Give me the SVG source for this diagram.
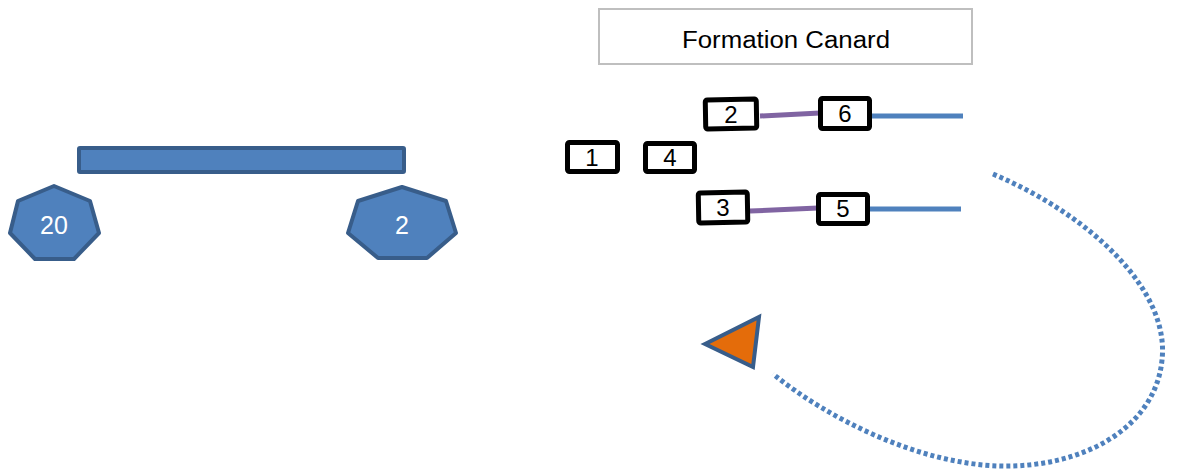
<svg xmlns="http://www.w3.org/2000/svg" width="1178" height="475" viewBox="0 0 1178 475">
<style>
.blue{fill:#4F81BD;stroke:#385D8A;stroke-width:4;stroke-linejoin:round}
.box{fill:#FFFFFF;stroke:#000000;stroke-width:5;stroke-linejoin:round}
.num{font-family:"Liberation Sans",Arial,sans-serif;font-size:24px;text-anchor:middle;fill:#000000}
.wnum{font-family:"Liberation Sans",Arial,sans-serif;font-size:25px;text-anchor:middle;fill:#FFFFFF}
.purple{stroke:#8064A2;stroke-width:5;fill:none}
.bline{stroke:#4F81BD;stroke-width:5;fill:none}
</style>
<rect width="1178" height="475" fill="#FFFFFF"/>
<g id="title">
<rect x="599" y="9" width="373" height="55" fill="#FFFFFF" stroke="#BFBFBF" stroke-width="2"/>
<text x="786" y="48" font-family="Liberation Sans,Arial,sans-serif" font-size="23" text-anchor="middle" textLength="208" lengthAdjust="spacingAndGlyphs" fill="#000000">Formation Canard</text>
</g>
<g id="bar"><rect class="blue" x="79" y="148" width="325" height="24" rx="1"/></g>
<g id="hept20">
<polygon class="blue" points="54,186 90,201 99,233 74,259 35,259 10,233 18,201"/>
<text class="wnum" x="54" y="234">20</text>
</g>
<g id="hept2">
<polygon class="blue" points="402,187 446,201 456,233 427,258 378,258 348,233 358,201"/>
<text class="wnum" x="402" y="234">2</text>
</g>
<g id="connectors">
<line class="purple" x1="760" y1="116" x2="820" y2="113"/>
<line class="bline" x1="870" y1="116" x2="963" y2="116"/>
<line class="purple" x1="750" y1="211" x2="818" y2="208"/>
<line class="bline" x1="868" y1="209" x2="961" y2="209"/>
<path d="M993,174 C1090,215 1170,290 1162,360 C1155,430 1080,468 1000,466 C920,464 830,420 773,374" fill="none" stroke="#4F81BD" stroke-width="5" stroke-dasharray="4 3"/>
</g>
<g id="box1"><rect class="box" x="567.5" y="142.5" width="50" height="29" rx="2"/><text class="num" x="592" y="166">1</text></g>
<g id="box4"><rect class="box" x="645.5" y="143.5" width="49" height="28" rx="2"/><text class="num" x="670" y="166">4</text></g>
<g id="box2"><rect class="box" x="705.5" y="99.5" width="51" height="29" rx="2" transform="rotate(-1 731 114)"/><text class="num" x="731" y="123">2</text></g>
<g id="box6"><rect class="box" x="820.5" y="98.5" width="49" height="30" rx="2"/><text class="num" x="845" y="122">6</text></g>
<g id="box3"><rect class="box" x="698.5" y="192.5" width="49" height="30" rx="2" transform="rotate(-1 723 207)"/><text class="num" x="723" y="216">3</text></g>
<g id="box5"><rect class="box" x="818.5" y="194.5" width="49" height="29" rx="2"/><text class="num" x="843" y="217">5</text></g>
<g id="triangle"><polygon points="705,344 759,317 753,367" fill="#E46C0A" stroke="#385D8A" stroke-width="4" stroke-linejoin="miter"/></g>
</svg>
